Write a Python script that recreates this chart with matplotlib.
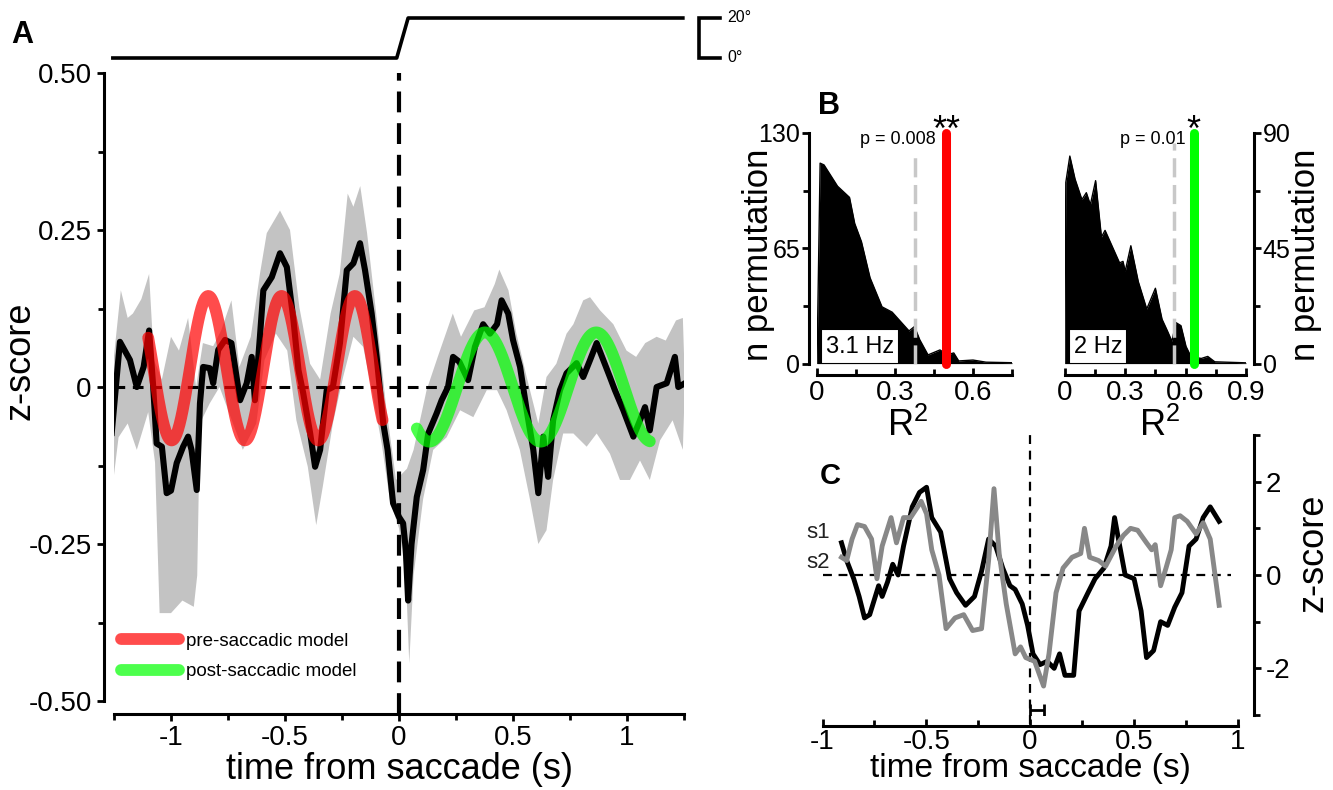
import numpy as np
import matplotlib.pyplot as plt
from matplotlib.lines import Line2D
from matplotlib.patches import Rectangle

plt.rcParams['font.family'] = ['Liberation Sans', 'DejaVu Sans']
plt.rcParams['axes.unicode_minus'] = False

W, H = 1333, 790

# ---------------- panel A: population z-score around saccade
a_t = [-1.26, -1.224, -1.18, -1.15, -1.12, -1.096, -1.078, -1.063, -1.04, -1.019,
       -1.0, -0.975, -0.947, -0.925, -0.91, -0.887, -0.873, -0.859, -0.83, -0.815,
       -0.793, -0.763, -0.735, -0.697, -0.668, -0.646, -0.632, -0.61, -0.595, -0.558,
       -0.522, -0.492, -0.463, -0.441, -0.42, -0.39, -0.368, -0.346, -0.317, -0.29,
       -0.259, -0.229, -0.2, -0.171, -0.149, -0.12, -0.098, -0.069, -0.05, -0.026,
       0.0, 0.018, 0.03, 0.04, 0.055, 0.078, 0.106, 0.128, 0.165, 0.187,
       0.215, 0.237, 0.265, 0.303, 0.333, 0.369, 0.399, 0.43, 0.45, 0.479,
       0.5, 0.531, 0.56, 0.589, 0.611, 0.633, 0.654, 0.676, 0.706, 0.735,
       0.779, 0.808, 0.838, 0.867, 0.896, 0.925, 0.947, 0.984, 1.028, 1.057,
       1.079, 1.1, 1.13, 1.174, 1.21, 1.225, 1.254]
a_z = [-0.073, 0.072, 0.043, 0.0, 0.032, 0.09, 0.0, -0.09, -0.095, -0.169,
       -0.165, -0.121, -0.095, -0.079, -0.1, -0.164, -0.026, 0.032, 0.03, 0.006,
       0.059, 0.075, 0.07, -0.021, 0.006, 0.048, -0.021, 0.08, 0.154, 0.175,
       0.213, 0.191, 0.107, 0.027, -0.01, -0.073, -0.127, -0.1, -0.005, 0.0,
       0.07, 0.186, 0.197, 0.229, 0.186, 0.117, 0.048, -0.058, -0.1, -0.185,
       -0.207, -0.217, -0.26, -0.34, -0.25, -0.175, -0.132, -0.074, -0.042, -0.021,
       0.0, 0.048, 0.04, 0.011, 0.064, 0.1, 0.085, 0.1, 0.138, 0.117,
       0.075, 0.032, -0.037, -0.1, -0.169, -0.079, -0.143, -0.053, -0.005, 0.022,
       0.038, 0.016, 0.043, 0.07, 0.043, 0.016, -0.005, -0.037, -0.079, -0.053,
       -0.032, -0.069, 0.0, 0.006, 0.048, 0.0, 0.006]

# upper / lower edge of the grey error band
band_up_t = [-1.26, -1.22, -1.19, -1.167, -1.13, -1.096, -1.075, -1.04, -1.0, -0.965,
             -0.925, -0.89, -0.86, -0.815, -0.78, -0.735, -0.7, -0.65, -0.61, -0.58,
             -0.522, -0.478, -0.437, -0.39, -0.346, -0.3, -0.26, -0.225, -0.2, -0.17,
             -0.14, -0.1, -0.057, -0.013, 0.035, 0.064, 0.121, 0.17, 0.236, 0.272,
             0.33, 0.375, 0.42, 0.44, 0.48, 0.515, 0.56, 0.611, 0.647, 0.69,
             0.735, 0.765, 0.808, 0.838, 0.882, 0.94, 0.998, 1.04, 1.08, 1.13,
             1.17, 1.215, 1.245, 1.254]
band_up = [0.015, 0.154, 0.11, 0.117, 0.14, 0.18, 0.043, 0.012, 0.08, 0.058,
           0.11, 0.0, 0.07, 0.065, 0.09, 0.138, 0.032, 0.08, 0.18, 0.245,
           0.281, 0.25, 0.127, 0.037, 0.012, 0.117, 0.18, 0.308, 0.287, 0.32,
           0.245, 0.117, -0.03, -0.148, -0.13, -0.1, -0.005, 0.048, 0.117, 0.08,
           0.122, 0.127, 0.164, 0.187, 0.154, 0.085, 0.016, -0.058, 0.016, 0.037,
           0.085, 0.1, 0.138, 0.143, 0.122, 0.1, 0.058, 0.048, 0.07, 0.08,
           0.074, 0.106, 0.11, 0.006]
band_lo_t = [-1.26, -1.23, -1.19, -1.15, -1.1, -1.07, -1.05, -1.0, -0.95, -0.9,
             -0.885, -0.873, -0.83, -0.787, -0.728, -0.685, -0.626, -0.59, -0.54, -0.49,
             -0.45, -0.4, -0.363, -0.334, -0.29, -0.245, -0.2, -0.157, -0.113, -0.076,
             -0.04, 0.0, 0.03, 0.045, 0.064, 0.106, 0.15, 0.209, 0.268, 0.326,
             0.385, 0.43, 0.472, 0.53, 0.575, 0.611, 0.647, 0.676, 0.72, 0.765,
             0.823, 0.867, 0.925, 0.969, 1.013, 1.057, 1.1, 1.145, 1.2, 1.245, 1.254]
band_lo = [-0.17, -0.08, -0.058, -0.1, -0.04, -0.12, -0.36, -0.36, -0.34, -0.35,
           -0.3, -0.058, -0.026, 0.0, -0.058, -0.1, -0.058, 0.043, 0.085, 0.058,
           -0.053, -0.127, -0.22, -0.158, -0.058, 0.016, 0.08, 0.064, -0.016, -0.09,
           -0.18, -0.225, -0.3, -0.44, -0.3, -0.178, -0.1, -0.08, -0.037, -0.048,
           -0.005, -0.005, -0.037, -0.1, -0.18, -0.25, -0.228, -0.148, -0.074, -0.074,
           -0.095, -0.074, -0.106, -0.148, -0.148, -0.117, -0.148, -0.085, -0.053, -0.1, 0.006]

# fitted sinusoid models (frequency Hz, amplitude, offset, time of a peak, start, end)
pre_model = dict(freq=3.11, amp=0.115, offset=0.03, peak=-0.515, start=-1.1, end=-0.072)
post_model = dict(freq=2.05, amp=0.087, offset=0.0, peak=0.377, start=0.078, end=1.1)

# eye position trace above panel A
stim_t = [-1.255, -0.01, 0.04, 1.245]
stim_deg = [0, 0, 20, 20]

# ---------------- panel B: permutation distributions of R^2
b1_r2 = [0.0, 0.012, 0.027, 0.079, 0.125, 0.145, 0.171, 0.204, 0.25, 0.289,
         0.354, 0.375, 0.395, 0.427, 0.473, 0.5, 0.526, 0.545, 0.6, 0.65, 0.75]
b1_n = [0, 113, 112, 100, 93.7, 79, 68.7, 48.4, 32, 29,
        18.4, 20.9, 13.5, 4.9, 7.7, 5, 6, 1.5, 2, 0.8, 0.5]
b1_thresh, b1_thresh_top, b1_obs, b1_p, b1_freq = 0.375, 120, 0.496, 'p = 0.008', '3.1 Hz'

b2_r2 = [0.0, 0.005, 0.025, 0.051, 0.085, 0.107, 0.127, 0.153, 0.182, 0.2,
         0.272, 0.289, 0.3, 0.328, 0.365, 0.407, 0.45, 0.483, 0.51, 0.532,
         0.552, 0.577, 0.602, 0.627, 0.678, 0.71, 0.745, 0.9]
b2_n = [0, 70.7, 81, 72, 64, 66.7, 62, 71.4, 49.4, 52,
        39.3, 39.9, 36, 46, 32, 21.3, 29.4, 17.3, 12.7, 8.7,
        16, 14.8, 6.7, 2.7, 2, 2.8, 0.7, 0.3]
b2_thresh, b2_thresh_top, b2_obs, b2_p, b2_freq = 0.54, 86, 0.64, 'p = 0.01', '2 Hz'

# ---------------- panel C: two example sessions
c_t1 = [-0.909, -0.884, -0.85, -0.824, -0.798, -0.773, -0.73, -0.713, -0.687, -0.662,
        -0.636, -0.61, -0.568, -0.533, -0.499, -0.474, -0.431, -0.388, -0.354, -0.311,
        -0.268, -0.234, -0.2, -0.166, -0.132, -0.097, -0.072, -0.038, -0.012, 0.014,
        0.048, 0.082, 0.116, 0.142, 0.168, 0.21, 0.236, 0.279, 0.313, 0.356,
        0.39, 0.407, 0.432, 0.458, 0.501, 0.535, 0.561, 0.595, 0.629, 0.663,
        0.697, 0.732, 0.766, 0.8, 0.834, 0.868, 0.911]
c_z1 = [0.69, 0.31, -0.08, -0.46, -0.92, -0.85, -0.23, -0.46, -0.15, 0.23,
        0.0, 0.62, 1.46, 1.77, 1.88, 1.23, 0.92, -0.08, -0.38, -0.65,
        -0.46, 0.08, 0.77, 0.62, 0.15, -0.23, -0.31, -0.62, -1.08, -1.69,
        -1.92, -1.85, -2.0, -1.69, -2.15, -2.15, -0.77, -0.38, -0.08, 0.15,
        0.62, 1.23, 0.62, 0.0, -0.08, -0.77, -1.77, -1.62, -1.0, -1.08,
        -0.69, -0.38, 0.62, 0.77, 1.23, 1.46, 1.15]
c_t2 = [-0.909, -0.884, -0.858, -0.832, -0.798, -0.764, -0.738, -0.713, -0.67, -0.644,
        -0.61, -0.576, -0.542, -0.525, -0.499, -0.474, -0.439, -0.405, -0.362, -0.32,
        -0.277, -0.234, -0.2, -0.174, -0.149, -0.115, -0.072, -0.046, -0.021, 0.022,
        0.065, 0.091, 0.125, 0.159, 0.202, 0.244, 0.262, 0.287, 0.33, 0.364,
        0.415, 0.45, 0.484, 0.518, 0.561, 0.586, 0.603, 0.629, 0.655, 0.68,
        0.697, 0.723, 0.757, 0.8, 0.834, 0.868, 0.911]
c_z2 = [0.38, 0.31, 0.77, 1.08, 1.04, 0.77, -0.08, 0.62, 1.23, 0.69,
        1.23, 1.23, 1.46, 1.58, 1.31, 0.54, 0.0, -1.15, -0.92, -0.85,
        -1.19, -1.15, 0.31, 1.85, 0.46, -0.62, -1.69, -1.54, -1.77, -1.85,
        -2.38, -1.69, -0.38, 0.15, 0.38, 0.46, 1.0, 0.38, 0.31, 0.19,
        0.62, 0.85, 1.0, 0.96, 0.69, 0.54, 0.65, -0.23, 0.15, 0.54,
        1.23, 1.27, 1.15, 0.88, 1.12, 0.77, -0.65]
c_err_t, c_err_w, c_err_z = 0.0325, 0.0325, -2.9


def px_axes(left, top, right, bottom):
    return fig.add_axes([left / W, 1 - bottom / H, (right - left) / W, (bottom - top) / H])


def model_curve(m):
    t = np.linspace(m['start'], m['end'], 300)
    return t, m['offset'] + m['amp'] * np.cos(2 * np.pi * m['freq'] * (t - m['peak']))


def style_axis(ax, lw=2.2):
    for s in ax.spines.values():
        s.set_linewidth(lw)
    ax.tick_params(which='both', width=2, labelsize=20, direction='out')
    ax.tick_params(which='major', length=5)
    ax.tick_params(which='minor', length=4)


fig = plt.figure(figsize=(W / 100, H / 100), dpi=100)

# ---------- A
axA = px_axes(114, 73, 684, 713.6)
axA.set_xlim(-1.25, 1.25)
axA.set_ylim(-0.52, 0.5)
poly_t = band_up_t + band_lo_t[::-1]
poly_z = band_up + band_lo[::-1]
axA.fill(poly_t, poly_z, color='#c3c3c3', lw=0, zorder=1)
axA.plot([-1.25, 0.65], [0, 0], color='black', lw=2.2, ls=(0, (3.5, 2.5)), zorder=2)
axA.plot([0, 0], [-0.52, 0.5], color='black', lw=3, ls=(0, (5, 2.6)), zorder=2, clip_on=False)
axA.plot(a_t, a_z, color='black', lw=4.4, zorder=3)
t, z = model_curve(pre_model)
axA.plot(t, z, color='#ff0000', alpha=0.7, lw=8.5, solid_capstyle='round', zorder=4)
t, z = model_curve(post_model)
axA.plot(t, z, color='#00ff00', alpha=0.7, lw=8.5, solid_capstyle='round', zorder=4)

for s in ['top', 'right']:
    axA.spines[s].set_visible(False)
axA.spines['left'].set_position(('outward', 7))
axA.spines['left'].set_bounds(-0.5, 0.5)
style_axis(axA)
axA.set_yticks([-0.5, -0.25, 0, 0.25, 0.5])
axA.set_yticklabels(['-0.50', '-0.25', '0', '0.25', '0.50'])
axA.set_yticks([-0.375, -0.125, 0.125, 0.375], minor=True)
axA.set_xticks([-1, -0.5, 0, 0.5, 1])
axA.set_xticklabels(['-1', '-0.5', '0', '0.5', '1'])
axA.set_xticks([-1.25, -0.75, -0.25, 0.25, 0.75, 1.25], minor=True)
axA.tick_params(axis='x', pad=3)
axA.tick_params(axis='y', pad=4)
axA.set_xlabel('time from saccade (s)', fontsize=26, va='top')
axA.xaxis.set_label_coords(0.5, -0.06)
axA.set_ylabel('z-score', fontsize=26)
axA.yaxis.set_label_coords(-0.135, 0.55)

handles = [Line2D([0], [0], color='#ff0000', alpha=0.7, lw=8.5, solid_capstyle='round'),
           Line2D([0], [0], color='#00ff00', alpha=0.7, lw=8.5, solid_capstyle='round')]
axA.legend(handles, ['pre-saccadic model', 'post-saccadic model'], loc='lower left',
           bbox_to_anchor=(0.012, 0.052), frameon=False, fontsize=13.5, handlelength=3.1,
           handletextpad=0.4, labelspacing=0.7, borderpad=0, borderaxespad=0)

# eye position trace
axS = px_axes(114, 10, 684, 66)
axS.set_xlim(-1.25, 1.25)
axS.set_ylim(-4, 24)
axS.axis('off')
axS.plot(stim_t, stim_deg, color='black', lw=2.6, clip_on=False)
axS.plot([1.408, 1.316, 1.316, 1.408], [20, 20, 0, 0], color='black', lw=2.6,
         clip_on=False, solid_joinstyle='miter')
axS.text(1.44, 20, '20°', fontsize=11.5, va='center', ha='left')
axS.text(1.44, 0, '0°', fontsize=11.5, va='center', ha='left')


# ---------- B
def perm_panel(ax, r2, n, thresh, thresh_top, obs, ptxt, ftxt, color, stars, xmax, ymax,
               side, xticks, minor_x, yticks, box_w):
    ax.fill_between(r2, n, 0, color='black', lw=0, zorder=1)
    ax.plot(r2, n, color='black', lw=1, zorder=1)
    ax.plot([thresh, thresh], [0, thresh_top], color='#c8c8c8', lw=2.5,
            ls=(0, (5.5, 2.2)), zorder=2)
    ax.plot([obs, obs], [0, ymax], color=color, lw=6.5, solid_capstyle='round',
            zorder=3, clip_on=False)
    ax.text(obs - 0.038, ymax * 0.972, ptxt, fontsize=13, ha='right', va='center')
    ax.text(obs, ymax * 0.966, stars, fontsize=26, ha='center', va='baseline')
    ax.add_patch(Rectangle((0.022, 0.0), box_w, 0.15, transform=ax.transAxes,
                           facecolor='white', edgecolor='black', lw=1.5, zorder=4))
    ax.text(0.022 + box_w / 2, 0.072, ftxt, transform=ax.transAxes, fontsize=17,
            ha='center', va='center', zorder=5)
    ax.set_xlim(0, xmax)
    ax.set_ylim(0, ymax)
    other = 'right' if side == 'left' else 'left'
    ax.spines['top'].set_visible(False)
    ax.spines[other].set_visible(False)
    ax.spines[side].set_position(('outward', 6))
    ax.spines['bottom'].set_position(('outward', 8))
    style_axis(ax)
    ax.yaxis.set_ticks_position(side)
    ax.yaxis.set_label_position(side)
    ax.set_xticks(xticks)
    ax.set_xticklabels([('%g' % v) for v in xticks])
    ax.set_xticks(minor_x, minor=True)
    ax.set_yticks(yticks)
    ax.set_yticks([yticks[1] / 2, (yticks[1] + yticks[2]) / 2], minor=True)
    ax.tick_params(axis='x', which='both', direction='in', pad=4)
    ax.tick_params(axis='y', pad=1, labelsize=18)
    ax.set_xlabel('R$\\mathregular{^2}$', fontsize=26, va='top')
    ax.set_ylabel('n permutation', fontsize=25)


axB1 = px_axes(817, 133, 1012, 363.6)
perm_panel(axB1, b1_r2, b1_n, b1_thresh, b1_thresh_top, b1_obs, b1_p, b1_freq, '#ff0000',
           '**', 0.75, 130, 'left', [0, 0.3, 0.6], [0.15, 0.45, 0.75], [0, 65, 130], 0.4)
axB1.xaxis.set_label_coords(0.467, -0.19)
axB1.yaxis.set_label_coords(-0.215, 0.47)

axB2 = px_axes(1064.8, 133, 1246, 363.6)
perm_panel(axB2, b2_r2, b2_n, b2_thresh, b2_thresh_top, b2_obs, b2_p, b2_freq, '#00ff00',
           '*', 0.9, 90, 'right', [0, 0.3, 0.6, 0.9], [0.15, 0.45, 0.75], [0, 45, 90], 0.32)
axB2.xaxis.set_label_coords(0.525, -0.19)
axB2.yaxis.set_label_coords(1.24, 0.47)

# ---------- C
axC = px_axes(822.6, 435, 1237.6, 715)
axC.set_xlim(-1, 1)
axC.set_ylim(-3, 3)
axC.plot([-1, 0.97], [0, 0], color='black', lw=1.6, ls=(0, (4, 3)), zorder=1)
axC.plot([0, 0], [-3.2, 3.1], color='black', lw=1.6, ls=(0, (4, 3)), zorder=1, clip_on=False)
axC.plot(c_t1, c_z1, color='black', lw=3.5, zorder=2)
axC.plot(c_t2, c_z2, color='#888888', lw=3.5, zorder=3)
axC.errorbar(c_err_t, c_err_z, xerr=c_err_w, fmt='none', ecolor='black', elinewidth=2,
             capsize=4, capthick=2)
axC.text(-1.08, 0.92, 's1', fontsize=16, ha='left', va='center', color='#222222', clip_on=False)
axC.text(-1.08, 0.27, 's2', fontsize=16, ha='left', va='center', color='#222222', clip_on=False)
axC.spines['top'].set_visible(False)
axC.spines['left'].set_visible(False)
axC.spines['right'].set_position(('outward', 12))
axC.spines['bottom'].set_position(('outward', 8))
style_axis(axC)
axC.yaxis.set_ticks_position('right')
axC.yaxis.set_label_position('right')
axC.set_yticks([-2, 0, 2])
axC.set_yticks([-3, -1, 1, 3], minor=True)
axC.set_xticks([-1, -0.5, 0, 0.5, 1])
axC.set_xticklabels(['-1', '-0.5', '0', '0.5', '1'])
axC.set_xticks([-0.75, -0.25, 0.25, 0.75], minor=True)
axC.tick_params(axis='x', which='both', direction='in', pad=2)
axC.tick_params(axis='y', pad=3)
axC.set_xlabel('time from saccade (s)', fontsize=24, va='top')
axC.xaxis.set_label_coords(0.5, -0.136)
axC.set_ylabel('z-score', fontsize=26)
axC.yaxis.set_label_coords(1.14, 0.58)

# panel letters
fig.text(22 / W, 1 - 35 / H, 'A', fontsize=22, fontweight='bold', ha='center', va='center')
fig.text(829 / W, 1 - 106 / H, 'B', fontsize=22, fontweight='bold', ha='center', va='center')
fig.text(830 / W, 1 - 476 / H, 'C', fontsize=21, fontweight='bold', ha='center', va='center')

fig.savefig('out.png', dpi=100)
